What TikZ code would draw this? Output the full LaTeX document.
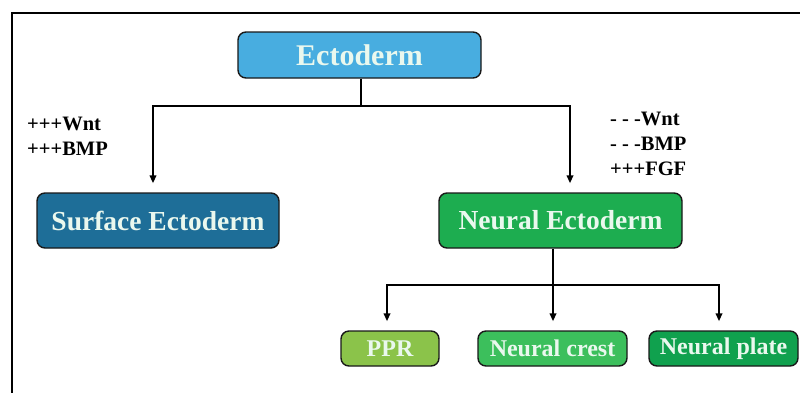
\documentclass[tikz,border=0pt]{standalone}
\usepackage{fontspec}
\setmainfont{Liberation Serif}
\usepackage{xcolor}
\usetikzlibrary{arrows.meta, positioning}

\definecolor{ectoblue}{HTML}{48ADE0}
\definecolor{surfblue}{HTML}{1E6E98}
\definecolor{neurgreen}{HTML}{1DAD50}
\definecolor{pprgreen}{HTML}{8BC34A}
\definecolor{crestgreen}{HTML}{3CBF5C}
\definecolor{plategreen}{HTML}{10A14E}
\definecolor{boxtext}{HTML}{EAF8EE}

\begin{document}
\begin{tikzpicture}[x=1pt, y=1pt,
        >={Triangle[length=8pt, width=6.5pt]},
        box/.style={draw=black!90, line width=1.4pt, rounded corners=8pt,
            text=boxtext, font=\bfseries, inner sep=0pt},
        bigbox/.style={box, minimum width=243pt, minimum height=55pt, font=\fontsize{27.5}{30}\selectfont\bfseries},
        smallbox/.style={box, minimum width=149pt, minimum height=35pt, font=\fontsize{24}{26}\selectfont\bfseries},
        signal/.style={align=left, anchor=base west, inner sep=0pt, font=\fontsize{20.5}{25}\selectfont\bfseries},
        link/.style={line width=2pt}]
        \useasboundingbox (0, 0) rectangle (800, -392);
        \draw[line width=2.7pt] (12, -420) -- (12, -13) -- (830, -13);

        \node[box, fill=ectoblue, minimum width=243pt, minimum height=46pt,
            font=\fontsize{30}{32}\selectfont\bfseries] (ecto) at (359.5, -55) {Ectoderm};

        \node[bigbox, fill=surfblue, minimum width=242pt] (surf) at (158, -220.5) {Surface Ectoderm};
        \node[bigbox, fill=neurgreen] (neur) at (560.5, -220.5) {Neural Ectoderm};

        \node[smallbox, fill=pprgreen, minimum width=98pt] (ppr) at (390, -348.5) {PPR};
        \node[smallbox, fill=crestgreen] (crest) at (552.5, -348.5) {Neural crest};
        \node[smallbox, fill=plategreen] (plate) at (723.5, -348.5) {Neural plate};

        % the last line of each sits on the given baseline
        \node[signal] (sigsurf) at (27, -155) {+++Wnt\\+++BMP};
        \node[signal] (signeur) at (610, -175) {- - -Wnt\\- - -BMP\\+++FGF};

        % ectoderm branches
        \draw[link] ([xshift=1.5pt]ecto.south) |- ++(0, -27) coordinate (ectojoin);
        \draw[link, ->] (ectojoin) -| ([xshift=-5pt, yshift=9pt]surf.north);
        \draw[link, ->] (ectojoin) -| ([xshift=9.5pt, yshift=9pt]neur.north);

        % neural ectoderm branches
        \draw[link] ([xshift=-7.5pt]neur.south) -- ++(0, -36) coordinate (neurjoin);
        \draw[link, ->] (neurjoin) -| ([xshift=-3pt, yshift=9pt]ppr.north);
        \draw[link, ->] (neurjoin) -- ([yshift=9pt]neurjoin |- crest.north);
        \draw[link, ->] (neurjoin) -| ([xshift=-4.5pt, yshift=9pt]plate.north);
\end{tikzpicture}
\end{document}
